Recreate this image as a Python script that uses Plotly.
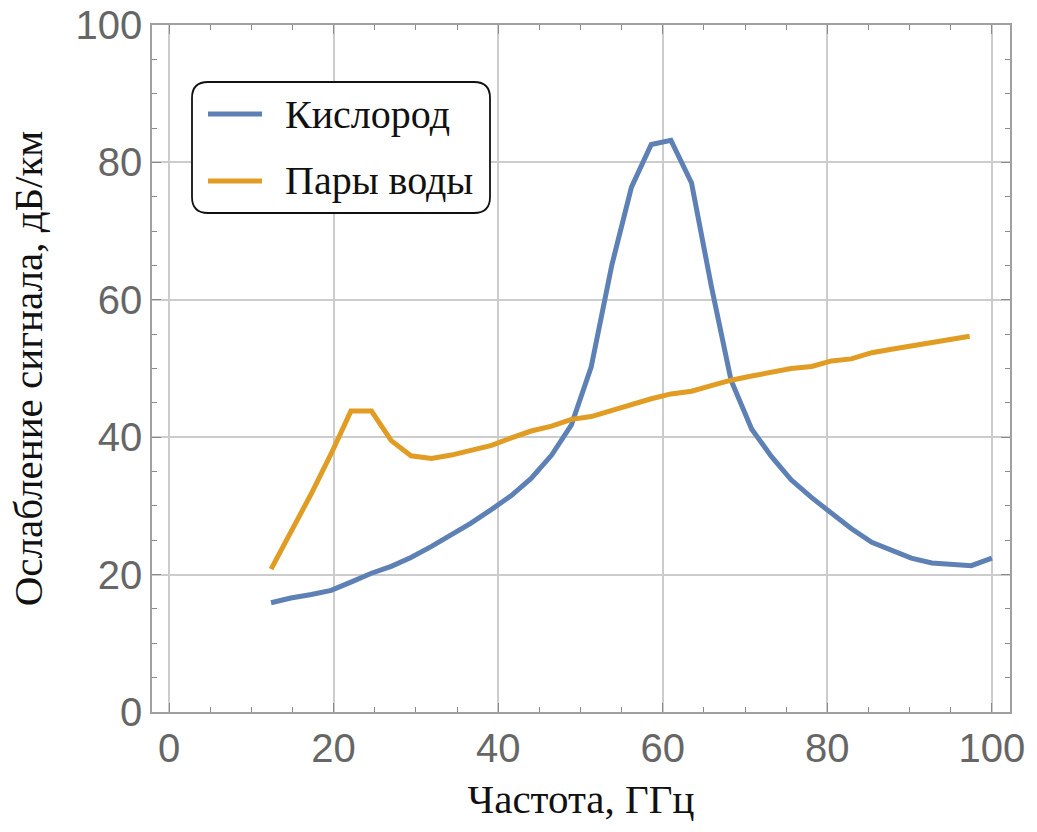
import plotly.graph_objects as go

# ---- data ----
freq_o2 = [12.4, 14.8, 17.3, 19.7, 22.1, 24.6, 27.0, 29.4, 31.9, 34.3, 36.7, 39.2,
           41.6, 44.0, 46.5, 48.9, 51.3, 53.8, 56.2, 58.6, 61.0, 63.5, 65.9, 68.3,
           70.8, 73.2, 75.6, 78.1, 80.5, 82.9, 85.4, 87.8, 90.2, 92.7, 95.1, 97.5, 100.0]
oxygen = [15.9, 16.6, 17.1, 17.7, 18.9, 20.2, 21.2, 22.5, 24.1, 25.8, 27.5, 29.5,
          31.5, 34.0, 37.4, 41.8, 50.2, 65.0, 76.4, 82.6, 83.2, 77.0, 62.0, 48.3,
          41.2, 37.2, 33.8, 31.2, 28.9, 26.7, 24.7, 23.5, 22.4, 21.7, 21.5, 21.3, 22.4]

freq_h2o = [12.4, 14.8, 17.3, 19.7, 22.1, 24.6, 27.0, 29.4, 31.9, 34.3, 36.7, 39.2,
            41.6, 44.0, 46.5, 48.9, 51.3, 53.8, 56.2, 58.6, 61.0, 63.5, 65.9, 68.3,
            70.8, 73.2, 75.6, 78.1, 80.5, 82.9, 85.4, 87.8, 90.2, 92.7, 95.1, 97.3]
water = [20.8, 26.2, 31.8, 37.6, 43.8, 43.8, 39.5, 37.3, 36.9, 37.4, 38.0, 38.8,
         39.9, 40.9, 41.6, 42.6, 43.0, 43.9, 44.7, 45.6, 46.3, 46.7, 47.5, 48.3,
         48.9, 49.5, 50.0, 50.3, 51.1, 51.4, 52.3, 52.8, 53.3, 53.7, 54.2, 54.7]

names = ["Кислород", "Пары воды"]
colors = ["#5E81B5", "#E19C24"]
x_title = "Частота, ГГц"
y_title = "Ослабление сигнала, дБ/км"

# ---- layout geometry (page pixels; body margin removed below) ----
W, H = 1037, 832
L, R, T, B = 152, 1010, 25, 712


def px(x):
    return (x - L) / (R - L)


def py(y):
    return (B - y) / (B - T)


fig = go.Figure()
fig.add_trace(go.Scatter(x=freq_o2, y=oxygen, mode="lines", name=names[0],
                         line=dict(color=colors[0], width=5), showlegend=False))
fig.add_trace(go.Scatter(x=freq_h2o, y=water, mode="lines", name=names[1],
                         line=dict(color=colors[1], width=5), showlegend=False))

serif = "Liberation Serif, Times New Roman, serif"
axis_common = dict(
    automargin=False,
    ticklabeloverflow="allow",
    showline=True, linecolor="#a0a0a0", linewidth=1.5, mirror="ticks",
    ticks="inside", ticklen=9, tickwidth=1.3, tickcolor="#8a8a8a",
    showgrid=True, gridcolor="#cccccc", gridwidth=1.5, zeroline=False,
    tickfont=dict(family="Liberation Sans, Arial, sans-serif", size=40, color="#666666"),
    minor=dict(dtick=5, ticks="inside", ticklen=5, tickwidth=1.1, tickcolor="#8a8a8a",
               showgrid=False),
)

fig.update_xaxes(range=[-2.07, 102.2], dtick=20, tick0=0,
                 title=dict(text=x_title, standoff=16,
                            font=dict(family=serif, size=41, color="#111111")),
                 **axis_common)
fig.update_yaxes(range=[0, 100], dtick=20, tick0=0,
                 title=dict(text=y_title, standoff=20,
                            font=dict(family=serif, size=41, color="#111111")),
                 **axis_common)

# ---- legend box (rounded, drawn as shapes + text) ----
bx0, bx1, by0, by1, r = 192, 490, 82, 213, 16
rx = r / (R - L)
ry = r / (B - T)
X0, X1, Y0, Y1 = px(bx0), px(bx1), py(by1), py(by0)
path = (f"M {X0+rx},{Y0} L {X1-rx},{Y0} Q {X1},{Y0} {X1},{Y0+ry} "
        f"L {X1},{Y1-ry} Q {X1},{Y1} {X1-rx},{Y1} "
        f"L {X0+rx},{Y1} Q {X0},{Y1} {X0},{Y1-ry} "
        f"L {X0},{Y0+ry} Q {X0},{Y0} {X0+rx},{Y0} Z")
shapes = [dict(type="path", path=path, xref="paper", yref="paper",
               fillcolor="white", line=dict(color="#111111", width=1.8), layer="above")]
annotations = []
for i, (nm, col) in enumerate(zip(names, colors)):
    yy = [114, 181][i]
    shapes.append(dict(type="line", xref="paper", yref="paper",
                       x0=px(208), x1=px(262), y0=py(yy), y1=py(yy),
                       line=dict(color=col, width=5), layer="above"))
    annotations.append(dict(text=nm, xref="paper", yref="paper",
                            x=px(283), y=py(yy), xanchor="left", yanchor="middle",
                            showarrow=False,
                            font=dict(family=serif, size=40, color="#111111")))

fig.update_layout(
    width=W, height=H,
    margin=dict(l=L, r=W - R, t=T, b=H - B),
    paper_bgcolor="white", plot_bgcolor="white",
    shapes=shapes, annotations=annotations,
    showlegend=False,
)

fig.write_html("out.html",
               config={"displayModeBar": False},
               post_script="document.body.style.margin='0';"
                           "document.body.style.overflow='hidden';")
